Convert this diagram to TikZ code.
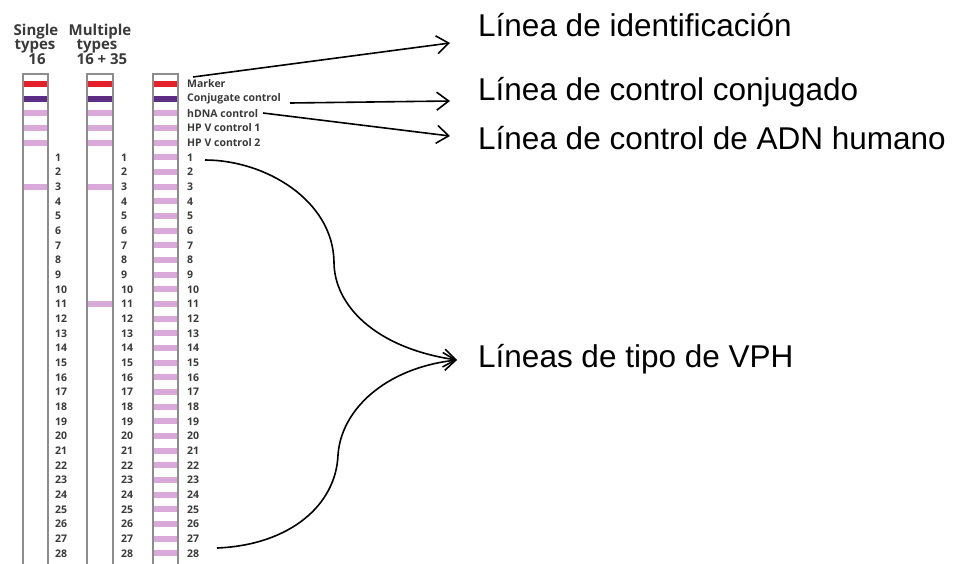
\documentclass[tikz,border=0pt]{standalone}
\usepackage{fontspec}
\setmainfont{Liberation Sans}
\newfontfamily\labfont{Open Sans}
\usetikzlibrary{arrows.meta}
\definecolor{bandred}{HTML}{E5202B}
\definecolor{bandpurple}{HTML}{5E2D86}
\definecolor{bandpink}{HTML}{D9A9D9}
\definecolor{labgray}{HTML}{3A3A3A}
\definecolor{stripgray}{HTML}{8C8C8C}
\begin{document}
\begin{tikzpicture}[x=1pt,y=-1pt,
  stripline/.style={draw=stripgray, line width=1.1pt},
  lab/.style={anchor=west, inner sep=0pt, font=\labfont\bfseries\fontsize{10.5}{12}\selectfont, text=labgray},
  head/.style={anchor=base, inner sep=0pt, font=\labfont\bfseries\fontsize{15}{16}\selectfont, text=labgray},
  callout/.style={anchor=base west, inner sep=0pt, font=\fontsize{31.5}{36}\selectfont},
  conn/.style={line width=1.6pt, -{Straight Barb[length=12pt,width=18pt]}}
]
\clip (0,0) rectangle (958,563);
\fill[white] (0,0) rectangle (958,563);

% headers
\node[head] (h1a) at (36,35) {Single};
\node[head] (h1b) at (35,49) {types};
\node[head] (h1c) at (37,64) {16};
\node[head] (h2a) at (100,35) {Multiple};
\node[head] (h2b) at (97,49) {types};
\node[head] (h2c) at (102,64) {16 + 35};

% strips
\foreach \xl/\xr/\s in {23/48/1, 87/113/2, 153/178/3}{
  \fill[bandred] (\xl,81) rectangle (\xr,87);
  \fill[bandpurple] (\xl,96) rectangle (\xr,101.5);
  \foreach \k in {2,3,4}{
    \fill[bandpink] (\xl,{84+\k*14.667-2.9}) rectangle (\xr,{84+\k*14.667+2.9});
  }
}
\foreach \n in {3}{
  \fill[bandpink] (23,{84+(\n+4)*14.667-2.9}) rectangle (48,{84+(\n+4)*14.667+2.9});
}
\foreach \n in {3,11}{
  \fill[bandpink] (87,{84+(\n+4)*14.667-2.9}) rectangle (113,{84+(\n+4)*14.667+2.9});
}
\foreach \n in {1,...,28}{
  \fill[bandpink] (153,{84+(\n+4)*14.667-2.9}) rectangle (178,{84+(\n+4)*14.667+2.9});
}
\foreach \xl/\xr in {23/48, 87/113, 153/178}{
  \draw[stripline] (\xl,570) -- (\xl,74) -- (\xr,74) -- (\xr,570);
}

% numbers
\foreach \nx/\s in {55/1, 121/2, 187/3}{
  \foreach \n in {1,...,28}{
    \node[lab] (n\s-\n) at (\nx,{84+(\n+4)*14.667}) {\n};
  }
}

% control labels
\node[lab] (lmark) at (187,84) {Marker};
\node[lab] (lconj) at (187,98.7) {Conjugate control};
\node[lab] (lhdna) at (187,113.3) {hDNA control};
\node[lab] (lhpv1) at (187,128) {HP V control 1};
\node[lab] (lhpv2) at (187,142.7) {HP V control 2};

% callout texts
\node[callout] (c1) at (478,36) {Línea de identificación};
\node[callout] (c2) at (478,100) {Línea de control conjugado};
\node[callout] (c3) at (478,149) {Línea de control de ADN humano};
\node[callout] (c4) at (478,367) {Líneas de tipo de VPH};

% connector ends
\coordinate (a1s) at (193,77);
\coordinate (a1e) at (450,43);
\coordinate (a2s) at (290,103);
\coordinate (a2e) at (450,101);
\coordinate (a3s) at (263,113);
\coordinate (a3e) at (450,136);
\coordinate (a4s) at (205,160);
\coordinate (a4m) at (334,262);
\coordinate (a5s) at (217,548);
\coordinate (a5m) at (338,455);
\coordinate (a4e) at (457,360);

\draw[conn] (a1s) -- (a1e);
\draw[conn] (a2s) -- (a2e);
\draw[conn] (a3s) -- (a3e);
\draw[conn] (a4s) .. controls (265,160) and (333,200) .. (a4m)
  .. controls (334,305) and (375,348) .. (a4e);
\draw[conn] (a5s) .. controls (290,545) and (336,505) .. (a5m)
  .. controls (341,410) and (385,368) .. (a4e);
\end{tikzpicture}
\end{document}
